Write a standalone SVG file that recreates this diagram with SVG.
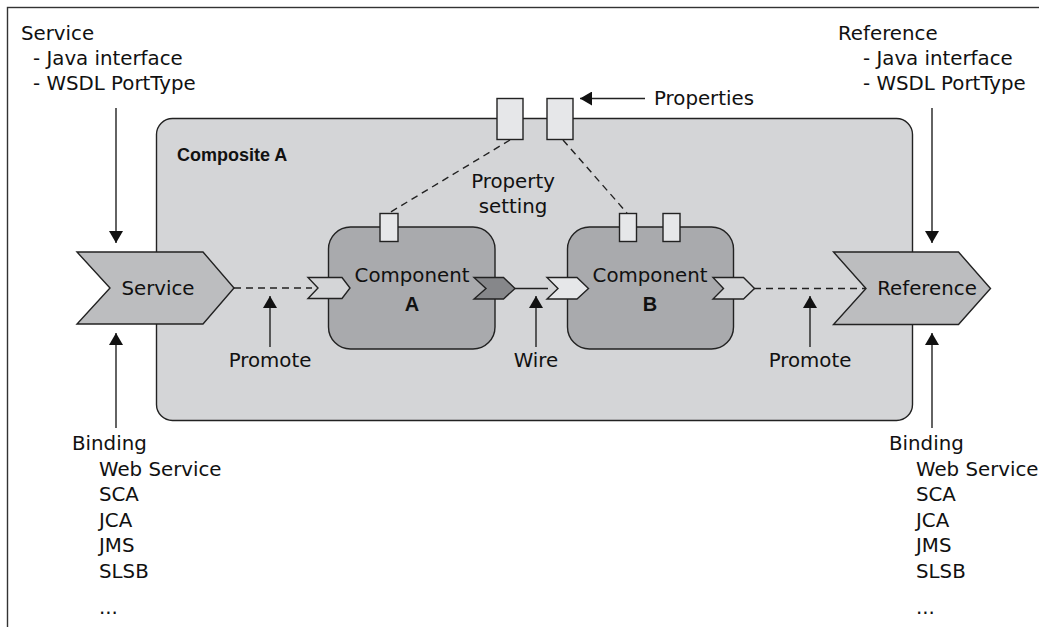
<svg xmlns="http://www.w3.org/2000/svg" width="1039" height="627" viewBox="0 0 1039 627">
  <style>
    .t { font-family: "DejaVu Sans", "Liberation Sans", sans-serif; font-size: 19.8px; fill: #111; }
    .b { font-family: "Liberation Sans", Arial, sans-serif; font-weight: bold; font-size: 18px; fill: #111; }
    .big { font-size: 20px; }
    .mid { text-anchor: middle; }
    .ln { stroke: #222; stroke-width: 1.4; fill: none; }
    .dash { stroke: #222; stroke-width: 1.4; fill: none; stroke-dasharray: 7 5; }
    .shape { stroke: #222; stroke-width: 1.4; }
  </style>
  <defs>
    <marker id="arrow" viewBox="0 0 12 14" refX="12" refY="7" markerWidth="12" markerHeight="14" markerUnits="userSpaceOnUse" orient="auto">
      <path d="M0,0 L12,7 L0,14 Z" fill="#111"/>
    </marker>
  </defs>

  <rect width="1039" height="627" fill="#fff"/>
  <!-- outer frame -->
  <rect x="7.5" y="7.5" width="1045" height="640" fill="none" stroke="#333" stroke-width="1.4"/>

  <!-- Composite A -->
  <g id="composite-a">
    <rect class="shape" x="156.5" y="118.5" width="756" height="302" rx="16" fill="#d4d5d7"/>
    <text class="b" x="177" y="161">Composite A</text>
  </g>

  <!-- annotations -->
  <g id="service-notes">
    <text class="t" x="21" y="40">Service</text>
    <text class="t" x="33" y="65">- Java interface</text>
    <text class="t" x="33" y="90">- WSDL PortType</text>
  </g>
  <g id="reference-notes">
    <text class="t" x="838" y="40">Reference</text>
    <text class="t" x="863" y="65">- Java interface</text>
    <text class="t" x="863" y="90">- WSDL PortType</text>
  </g>
  <g id="service-bindings">
    <text class="t" x="72" y="450">Binding</text>
    <text class="t" x="99" y="476">Web Service</text>
    <text class="t" x="99" y="501">SCA</text>
    <text class="t" x="99" y="527">JCA</text>
    <text class="t" x="99" y="552">JMS</text>
    <text class="t" x="99" y="578">SLSB</text>
    <text class="t" x="99" y="614">...</text>
  </g>
  <g id="reference-bindings">
    <text class="t" x="889" y="450">Binding</text>
    <text class="t" x="916" y="476">Web Service</text>
    <text class="t" x="916" y="501">SCA</text>
    <text class="t" x="916" y="527">JCA</text>
    <text class="t" x="916" y="552">JMS</text>
    <text class="t" x="916" y="578">SLSB</text>
    <text class="t" x="916" y="614">...</text>
  </g>

  <!-- connectors -->
  <g id="connectors">
    <line class="dash" x1="234" y1="288" x2="312" y2="288"/>
    <line class="ln" x1="515" y1="288.5" x2="548" y2="288.5"/>
    <line class="dash" x1="754" y1="288.5" x2="866" y2="288.5"/>
    <line class="dash" x1="510" y1="140" x2="389" y2="213"/>
    <line class="dash" x1="563" y1="140" x2="627" y2="213"/>
    <!-- callout arrows -->
    <line class="ln" x1="116" y1="108" x2="116" y2="243" marker-end="url(#arrow)"/>
    <line class="ln" x1="116" y1="428" x2="116" y2="333" marker-end="url(#arrow)"/>
    <line class="ln" x1="932" y1="108" x2="932" y2="243" marker-end="url(#arrow)"/>
    <line class="ln" x1="932" y1="428" x2="932" y2="333" marker-end="url(#arrow)"/>
    <line class="ln" x1="270" y1="347" x2="270" y2="296" marker-end="url(#arrow)"/>
    <line class="ln" x1="536" y1="347" x2="536" y2="296" marker-end="url(#arrow)"/>
    <line class="ln" x1="810" y1="347" x2="810" y2="296" marker-end="url(#arrow)"/>
    <line class="ln" x1="645" y1="98.5" x2="580" y2="98.5" marker-end="url(#arrow)"/>
  </g>

  <g id="callout-labels">
    <text class="t mid" x="270" y="367">Promote</text>
    <text class="t mid" x="536" y="367">Wire</text>
    <text class="t mid" x="810" y="367">Promote</text>
    <text class="t" x="654" y="105">Properties</text>
    <text class="t mid" x="513" y="188">Property</text>
    <text class="t mid" x="513" y="213">setting</text>
  </g>

  <!-- composite properties -->
  <g id="properties">
    <rect class="shape" x="497" y="98.5" width="26" height="41" fill="#e6e7e9"/>
    <rect class="shape" x="547" y="98.5" width="26" height="41" fill="#e6e7e9"/>
  </g>

  <!-- Service -->
  <g id="service">
    <path class="shape" d="M77,252 L203,252 L234,288 L203,324 L77,324 L110,288 Z" fill="#bcbdbf"/>
    <text class="t mid" x="158" y="295">Service</text>
  </g>

  <!-- Reference -->
  <g id="reference">
    <path class="shape" d="M833.5,252 L958.5,252 L990.5,288.5 L958.5,324.5 L833.5,324.5 L866,288.5 Z" fill="#bcbdbf"/>
    <text class="t mid" x="927" y="295">Reference</text>
  </g>

  <!-- Component A -->
  <g id="component-a">
    <rect class="shape" x="328.5" y="227" width="166.5" height="122" rx="22" fill="#a9aaad"/>
    <rect class="shape" x="380" y="213.5" width="18" height="28" fill="#e6e7e9"/>
    <path class="shape" d="M308,277.5 L342,277.5 L350,288 L342,298.5 L308,298.5 L318,288 Z" fill="#d4d5d7"/>
    <path class="shape" d="M474,277.5 L503.5,277.5 L515,288.5 L503.5,299 L474,299 L486,288.5 Z" fill="#86878a"/>
    <text class="t mid" x="412" y="282">Component</text>
    <text class="b big mid" x="412" y="311">A</text>
  </g>

  <!-- Component B -->
  <g id="component-b">
    <rect class="shape" x="567.5" y="227" width="166" height="122" rx="22" fill="#a9aaad"/>
    <rect class="shape" x="619.5" y="213.5" width="17" height="28" fill="#e6e7e9"/>
    <rect class="shape" x="663" y="213.5" width="17" height="28" fill="#e6e7e9"/>
    <path class="shape" d="M547,277.5 L577,277.5 L588.5,288.5 L577,299 L547,299 L558,288.5 Z" fill="#e6e7e9"/>
    <path class="shape" d="M713,277.5 L743.5,277.5 L754.5,288.5 L743.5,299 L713,299 L723.5,288.5 Z" fill="#d4d5d7"/>
    <text class="t mid" x="650" y="282">Component</text>
    <text class="b big mid" x="650" y="311">B</text>
  </g>
</svg>
